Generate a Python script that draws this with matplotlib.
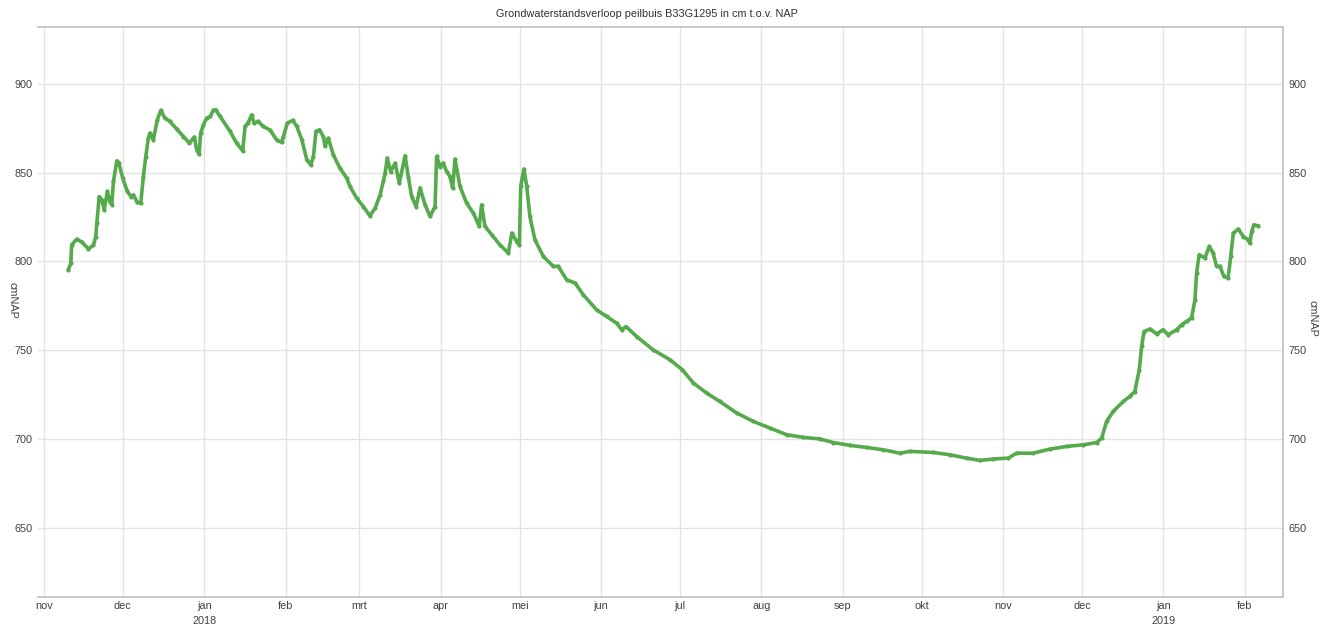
import datetime as dt

import matplotlib
matplotlib.use("Agg")
import matplotlib.dates as mdates
import matplotlib.pyplot as plt
import numpy as np

# days since 2017-11-01
day = [
    9.25, 10.2, 10.5, 12.4, 14.3, 16.9, 18.8, 19.7, 20.1, 21.0, 22.0, 22.9,
    24.1, 25.1, 25.8, 26.4, 27.7, 28.5, 29.9, 31.7, 33.1, 34.0, 35.5, 36.8,
    37.8, 38.7, 39.7, 40.3, 41.6, 43.1, 44.4, 46.0, 47.9, 50.5, 53.0, 55.3,
    57.2, 58.1, 59.0, 59.6, 60.6, 61.9, 63.2, 64.4, 65.3, 67.0, 70.8, 73.3,
    75.6, 76.5, 77.7, 79.0, 79.9, 81.5, 83.4, 86.0, 88.5, 90.4, 91.1, 92.6,
    94.6, 96.2, 98.1, 100.0, 101.5, 102.5, 103.5, 104.8, 106.3, 106.9, 108.2,
    110.1, 112.6, 115.2,
    116.4, 119.0, 121.5, 124.0, 126.0, 127.9, 129.1, 129.8, 130.6, 131.9,
    133.6, 135.2, 137.4, 138.6, 139.9, 141.6, 143.1, 145.0, 146.9, 148.8,
    149.4, 150.7, 151.9, 153.2, 154.5, 155.5, 156.4, 158.3, 160.8, 163.4,
    165.6, 166.5, 167.8, 170.4, 173.5, 176.7, 178.0, 179.9, 180.9, 181.4,
    182.6, 183.7, 184.9, 186.8, 190.0, 193.8, 195.7, 198.9, 202.1, 205.2,
    210.3, 214.1, 217.9, 219.8, 221.5, 225.5, 231.8, 238.2, 242.9, 247.1,
    252.2, 257.2, 263.6, 269.9, 276.3, 282.6, 288.9, 295.3,
    300.3, 306.7, 313.1, 319.4, 325.7, 329.5, 338.4, 344.7, 351.1, 356.2,
    361.2, 366.9, 370.1, 376.4, 382.8, 389.2, 395.5, 400.6, 402.5, 404.4,
    406.9, 410.7, 413.2, 415.1, 416.8, 417.7, 418.6, 420.9, 423.4, 425.9,
    427.8, 431.0, 432.9, 434.8, 436.7, 438.0, 438.6, 439.6, 441.8, 443.4,
    444.9, 446.2, 447.5, 449.0, 450.6, 451.6, 452.6, 454.5, 456.4, 458.3,
    458.9, 459.6, 460.4, 462.1,
]
level = [
    795.3, 799.0, 809.3, 812.5, 811.0, 807.0, 809.3, 814.0, 821.6, 836.5, 834.7, 829.0,
    839.4, 833.7, 831.9, 845.0, 856.6, 855.3, 847.0, 839.4, 836.5, 837.5, 833.2, 832.8,
    847.8, 859.0, 869.4, 872.2, 868.5, 879.7, 885.0, 880.7, 878.8, 874.5, 870.3, 866.6,
    870.0, 862.8, 860.4, 872.2, 876.9, 880.7, 881.6, 885.0, 885.4, 881.6, 873.2, 866.6,
    862.3, 876.0, 878.2, 882.5, 877.9, 878.8, 876.0, 874.0, 868.5, 867.0, 870.3, 877.9,
    879.4, 876.0, 868.5, 857.2, 854.4, 859.0, 873.2, 874.1, 870.3, 865.0, 869.4,
    860.0, 852.5, 846.9,
    842.2, 835.6, 830.9, 825.7, 830.0, 837.5, 845.0, 849.7, 858.2, 850.6,
    855.3, 844.1, 859.5, 847.8, 836.5, 830.9, 841.3, 831.9, 825.3, 830.9,
    859.1, 853.4, 855.3, 850.6, 847.8, 841.3, 857.6, 842.2, 832.8, 827.2,
    819.7, 831.9, 819.7, 815.0, 809.3, 804.7, 815.9, 811.2, 809.3, 842.2,
    852.0, 842.2, 825.3, 812.2, 802.8, 797.2, 797.2, 789.6, 787.8, 781.2,
    772.7, 769.0, 765.2, 761.5, 763.3, 757.7, 750.2, 744.6, 739.0, 731.5,
    725.8, 721.1, 714.6, 709.9, 706.1, 702.4, 700.9, 700.0,
    698.0, 696.4, 695.2, 693.9, 692.0, 693.0, 692.4, 691.1, 689.2, 687.9,
    688.7, 689.2, 692.0, 692.0, 694.3, 695.8, 696.7, 698.0, 700.5, 710.0,
    715.5, 721.1, 724.0, 726.7, 739.0, 752.1, 760.5, 761.9, 759.2, 761.5,
    758.7, 761.5, 764.3, 766.2, 768.1, 778.4, 793.4, 803.7, 801.9, 808.4,
    804.7, 797.2, 797.2, 791.5, 790.6, 802.8, 815.9, 818.2, 814.0, 812.2,
    810.3, 816.9, 820.6, 820.0,
]

start = dt.datetime(2017, 11, 1)
maanden = ["jan", "feb", "mrt", "apr", "mei", "jun", "jul", "aug", "sep", "okt", "nov", "dec"]
titel = "Grondwaterstandsverloop peilbuis B33G1295 in cm t.o.v. NAP"
eenheid = "cmNAP"

narrow = ["Liberation Sans Narrow", "Liberation Sans", "DejaVu Sans"]
green = "#55aa4c"
grid_c = "#e3e3e3"
frame_c = "#c4c4c4"

x = mdates.date2num(start) + np.array(day)

fig = plt.figure(figsize=(13.3, 6.26), dpi=100)
ax = fig.add_axes([38 / 1330, 29 / 626, 1245 / 1330, 570 / 626])

ax.plot(x, level, color=green, lw=2.6, marker="o", ms=2.0, mec=green, zorder=3)

x0 = mdates.date2num(start)
ax.set_xlim(x0 - 2.3, x0 + 471.5)
ax.set_ylim(611, 932)

ax.set_yticks([650, 700, 750, 800, 850, 900])
ax.xaxis.set_major_locator(mdates.MonthLocator())


def fmt(v, pos):
    d = mdates.num2date(v)
    if d.month == 1:
        return f"{maanden[0]}\n{d.year}"
    return maanden[d.month - 1]


ax.xaxis.set_major_formatter(plt.FuncFormatter(fmt))
ax.grid(True, color=grid_c, lw=1.0, zorder=0)
ax.tick_params(axis="both", length=0, labelsize=7.8, labelcolor="#404040")
ax.tick_params(axis="x", pad=3)
ax.tick_params(axis="y", pad=4, labelright=True)
for lab in ax.get_xticklabels() + ax.get_yticklabels():
    lab.set_family(narrow)
    lab.set_linespacing(1.55)

ax.spines["left"].set_visible(False)
for s in ("top", "bottom", "right"):
    ax.spines[s].set_color(frame_c)
    ax.spines[s].set_linewidth(1.3)

fig.text(647 / 1330, 1 - 14 / 626, titel, ha="center", va="center",
         fontsize=7.8, color="#303030", family=narrow)
fig.text(12 / 1330, 1 - 300 / 626, eenheid, ha="center", va="center",
         rotation=270, fontsize=7.8, color="#404040", family=narrow)
fig.text(1313 / 1330, 1 - 318 / 626, eenheid, ha="center", va="center",
         rotation=270, fontsize=7.8, color="#404040", family=narrow)

fig.savefig("out.png", dpi=100, facecolor="white")
